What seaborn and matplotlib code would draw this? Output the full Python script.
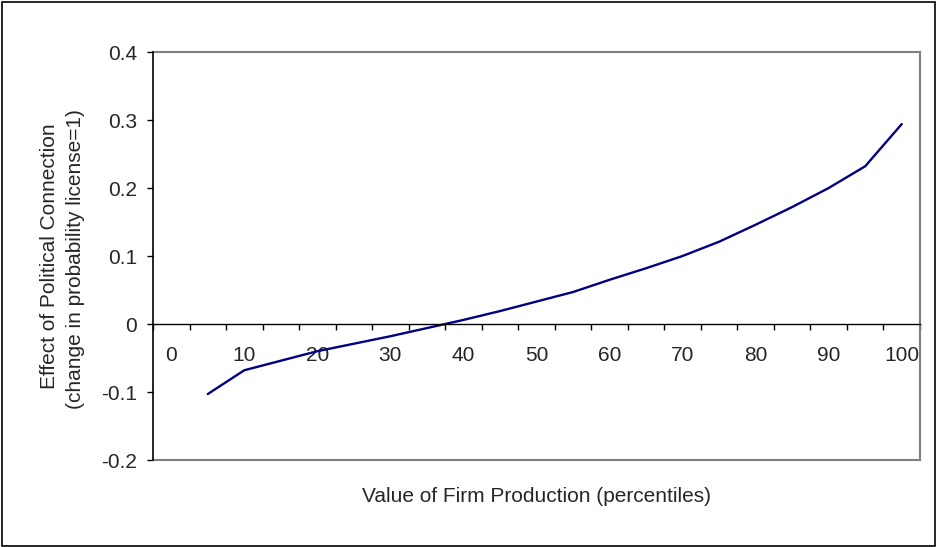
import matplotlib
matplotlib.use("Agg")
import matplotlib.pyplot as plt
import seaborn as sns
import pandas as pd
import numpy as np
from matplotlib.patches import Rectangle

sns.set_style("white")
plt.rcParams["font.family"] = ["Liberation Sans", "DejaVu Sans"]

# Percentile of firm production and the estimated effect
percentiles = [5, 10, 15, 20, 25, 30, 35, 40, 45, 50,
               55, 60, 65, 70, 75, 80, 85, 90, 95, 100]
effect = [-0.103, -0.068, -0.054, -0.040, -0.029, -0.018, -0.006, 0.006, 0.019, 0.033,
          0.047, 0.065, 0.082, 0.100, 0.121, 0.146, 0.172, 0.200, 0.232, 0.294]
tick_labels = ["0", "10", "20", "30", "40", "50", "60", "70", "80", "90", "100"]
y_ticks = [-0.2, -0.1, 0.0, 0.1, 0.2, 0.3, 0.4]
y_labels = ["-0.2", "-0.1", "0", "0.1", "0.2", "0.3", "0.4"]

df = pd.DataFrame({"pct": percentiles, "effect": effect})

FS = 15
W, H = 936, 547
fig = plt.figure(figsize=(W / 100, H / 100), dpi=100)
fig.patch.set_facecolor("white")

# plot area in pixel coordinates
left, right, top, bottom = 153, 920, 52, 460
ax = fig.add_axes([left / W, 1 - bottom / H, (right - left) / W, (bottom - top) / H])

sns.lineplot(data=df, x="pct", y="effect", ax=ax, color="#000080", linewidth=1.7)

ax.set_xlim(-2.5, 102.5)
ax.set_ylim(-0.2, 0.4)

# category boundaries carry the tick marks; labels sit at category centres
ax.set_xticks(np.arange(-2.5, 103, 5))
ax.set_xticklabels([])
ax.set_xticks(np.arange(0, 101, 10), minor=True)
ax.set_xticklabels(tick_labels, minor=True)
ax.tick_params(axis="x", which="major", direction="out", length=4.5, width=1,
               color="black", bottom=True)
ax.tick_params(axis="x", which="minor", length=0, pad=16, labelsize=FS, bottom=True)

ax.set_yticks(y_ticks)
ax.set_yticklabels(y_labels)
ax.tick_params(axis="y", direction="out", length=4.5, width=1, color="black",
               pad=7, left=True, labelsize=FS)

ax.set_xlabel("")
ax.set_ylabel("")

# spines: x axis crosses at zero, plot-area frame in grey
ax.spines["bottom"].set_position(("data", 0))
ax.spines["bottom"].set_color("black")
ax.spines["bottom"].set_linewidth(1)
ax.spines["left"].set_color("black")
ax.spines["left"].set_linewidth(1.2)
ax.spines["top"].set_color("#808080")
ax.spines["right"].set_color("#808080")
ax.spines["top"].set_linewidth(1.5)
ax.spines["right"].set_linewidth(1.5)
ax.spines["left"].set_zorder(5)
ax.plot([0, 1], [0, 0], transform=ax.transAxes, color="#808080", linewidth=1.5,
        clip_on=False, zorder=4)

fig.text(537 / W, 1 - 496 / H, "Value of Firm Production (percentiles)",
         ha="center", va="center", fontsize=FS)
fig.text(50 / W, 1 - 256 / H, "Effect of Political Connection",
         ha="center", va="center", rotation=90, fontsize=FS)
fig.text(76 / W, 1 - 259 / H, "(change in probability license=1)",
         ha="center", va="center", rotation=90, fontsize=FS)

# outer chart border
fig.add_artist(Rectangle((1.5 / W, 1.5 / H), (W - 3) / W, (H - 3) / H,
                         transform=fig.transFigure, fill=False,
                         edgecolor="black", linewidth=1.2))

fig.savefig("out.png", dpi=100)
